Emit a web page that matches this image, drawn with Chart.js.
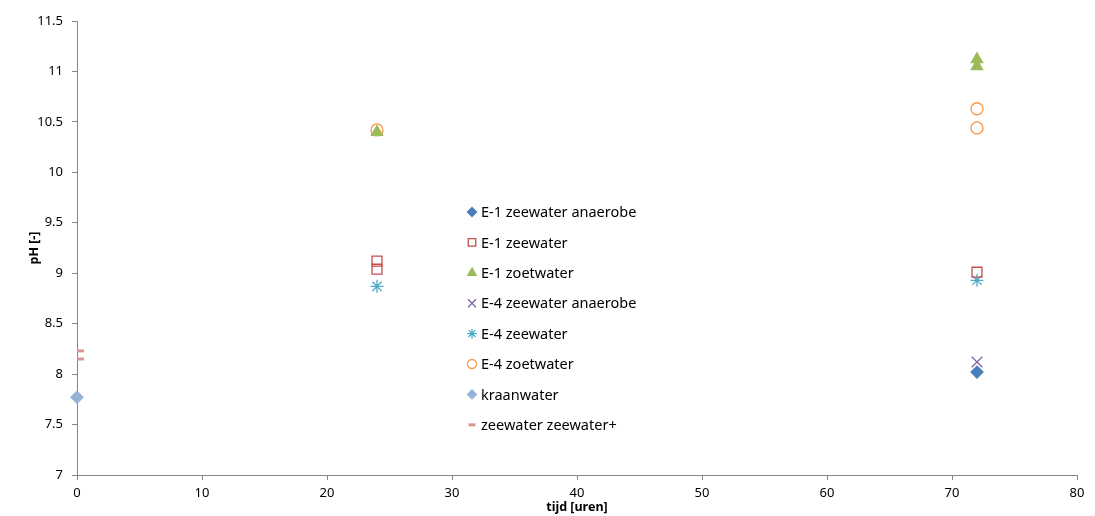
<!DOCTYPE html>
<html>
<head>
<meta charset="utf-8">
<script src="https://cdn.jsdelivr.net/npm/chart.js@4"></script>
<style>
  html, body { margin: 0; padding: 0; background: #fff; }
  #wrap { width: 1095px; height: 516px; }
</style>
</head>
<body>
<div id="wrap"><canvas id="myChart"></canvas></div>
<script>
// measurements: [tijd (uren), pH]
const e1ZeewaterAnaerobe = [[72, 8.02]];
const e1Zeewater = [[24, 9.12], [24, 9.04], [72, 9.01]];
const e1Zoetwater = [[24, 10.40], [72, 11.12], [72, 11.05]];
const e4ZeewaterAnaerobe = [[72, 8.12]];
const e4Zeewater = [[24, 8.87], [72, 8.93]];
const e4Zoetwater = [[24, 10.42], [72, 10.63], [72, 10.44]];
const kraanwater = [[0, 7.77]];
const zeewaterPlus = [[0, 8.23], [0, 8.15]];

const seriesLabels = ['E-1 zeewater anaerobe', 'E-1 zeewater', 'E-1 zoetwater', 'E-4 zeewater anaerobe',
  'E-4 zeewater', 'E-4 zoetwater', 'kraanwater', 'zeewater zeewater+'];

const xTicks = [0, 10, 20, 30, 40, 50, 60, 70, 80];
const yTicks = [7, 7.5, 8, 8.5, 9, 9.5, 10, 10.5, 11, 11.5];

const FONT = '"Noto Sans", "Open Sans", sans-serif';

const toXY = arr => arr.map(p => ({ x: p[0], y: p[1] }));

// clip: 0 = cut at plot edge (the dash marker sticks out only to the right in the original)
const styles = [
  { pointStyle: 'rectRot', radius: 6, color: '#4A7EBB', fill: true },
  { pointStyle: 'rect', radius: 7, color: '#C0504D', fill: false },
  { pointStyle: 'triangle', radius: 6.5, color: '#9BBB59', fill: true },
  { pointStyle: 'crossRot', radius: 7.5, color: '#8064A2', fill: false },
  { pointStyle: 'star', radius: 6.5, color: '#4BACC6', fill: false },
  { pointStyle: 'circle', radius: 6, color: '#F79646', fill: false },
  { pointStyle: 'rectRot', radius: 6, color: '#95B3D7', fill: true },
  { pointStyle: 'line', radius: 7, color: '#D99694', fill: false, width: 3, clip: 0 }
];

const allData = [e1ZeewaterAnaerobe, e1Zeewater, e1Zoetwater, e4ZeewaterAnaerobe,
  e4Zeewater, e4Zoetwater, kraanwater, zeewaterPlus];

const datasets = allData.map((d, i) => {
  const s = styles[i];
  return {
    label: seriesLabels[i],
    data: toXY(d),
    showLine: false,
    clip: s.clip === undefined ? false : s.clip,
    pointStyle: s.pointStyle,
    pointRadius: s.radius,
    pointHoverRadius: s.radius,
    pointBorderColor: s.color,
    pointBackgroundColor: s.fill ? s.color : 'rgba(0,0,0,0)',
    pointBorderWidth: s.width || 1.3
  };
});

// legend drawn inside the plot area
const insideLegend = {
  id: 'insideLegend',
  afterDraw(chart) {
    const ctx = chart.ctx;
    const x0 = 472, y0 = 212, step = 30.4;
    ctx.save();
    ctx.font = '14.5px ' + FONT;
    ctx.textBaseline = 'middle';
    ctx.textAlign = 'left';
    seriesLabels.forEach((label, i) => {
      const s = styles[i];
      const y = y0 + i * step;
      ctx.strokeStyle = s.color;
      ctx.fillStyle = s.fill ? s.color : 'rgba(0,0,0,0)';
      ctx.lineWidth = s.width || 1.3;
      Chart.helpers.drawPoint(ctx, {
        pointStyle: s.pointStyle,
        radius: s.pointStyle === 'line' ? 3.5 : s.radius * 0.75,
        rotation: 0,
        borderWidth: s.width || 1.3
      }, x0, y);
      ctx.fillStyle = '#000';
      ctx.fillText(label, x0 + 9, y + 1);
    });
    ctx.restore();
  }
};

const ctx = document.getElementById('myChart').getContext('2d');

new Chart(ctx, {
  type: 'scatter',
  data: { datasets: datasets },
  options: {
    responsive: true,
    maintainAspectRatio: false,
    animation: false,
    layout: { padding: { left: 0, right: 18, top: 21, bottom: 0 } },
    plugins: {
      legend: { display: false },
      tooltip: { enabled: false }
    },
    scales: {
      x: {
        type: 'linear',
        min: 0,
        max: 80,
        afterFit: scale => { scale.height = 41; },
        afterBuildTicks: scale => { scale.ticks = xTicks.map(v => ({ value: v })); },
        border: { color: '#868686', width: 1 },
        grid: { drawOnChartArea: false, tickLength: 5, color: '#868686' },
        ticks: { padding: 5, color: '#000', font: { family: FONT, size: 13 } },
        title: {
          display: true,
          text: 'tijd [uren]',
          color: '#000',
          padding: { top: 0, bottom: 1 },
          font: { family: FONT, size: 12.5, weight: 'bold' }
        }
      },
      y: {
        type: 'linear',
        min: 7,
        max: 11.5,
        afterFit: scale => { scale.width = 77; },
        afterBuildTicks: scale => { scale.ticks = yTicks.map(v => ({ value: v })); },
        border: { color: '#868686', width: 1 },
        grid: { drawOnChartArea: false, tickLength: 5, color: '#868686' },
        ticks: {
          padding: 9,
          color: '#000',
          font: { family: FONT, size: 13 },
          callback: value => String(value)
        },
        title: {
          display: true,
          text: 'pH [-]',
          color: '#000',
          padding: { top: 27, bottom: 0 },
          font: { family: FONT, size: 12.5, weight: 'bold' }
        }
      }
    }
  },
  plugins: [insideLegend]
});
</script>
</body>
</html>
